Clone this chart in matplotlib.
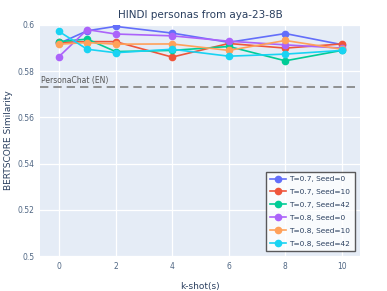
import numpy as np
import matplotlib.pyplot as plt

k_shots = [0, 1, 2, 4, 6, 8, 10]

t07_s0 = [0.5920, 0.5975, 0.5994, 0.5965, 0.5925, 0.5963, 0.5915]
t07_s10 = [0.5925, 0.5928, 0.5928, 0.5861, 0.5920, 0.5900, 0.5918]
t07_s42 = [0.5928, 0.5939, 0.5885, 0.5890, 0.5907, 0.5845, 0.5890]
t08_s0 = [0.5863, 0.5980, 0.5961, 0.5953, 0.5930, 0.5914, 0.5900]
t08_s10 = [0.5917, 0.5924, 0.5917, 0.5918, 0.5890, 0.5933, 0.5895]
t08_s42 = [0.5972, 0.5895, 0.5880, 0.5895, 0.5865, 0.5874, 0.5890]

series = [
    ("T=0.7, Seed=0", t07_s0, "#636EFA"),
    ("T=0.7, Seed=10", t07_s10, "#EF553B"),
    ("T=0.7, Seed=42", t07_s42, "#00CC96"),
    ("T=0.8, Seed=0", t08_s0, "#AB63FA"),
    ("T=0.8, Seed=10", t08_s10, "#FFA15A"),
    ("T=0.8, Seed=42", t08_s42, "#19D3F3"),
]

personachat_en = 0.5732

fig = plt.figure(figsize=(3.87, 2.91), dpi=100)
ax = fig.add_axes([40 / 387, 1 - 256 / 291, 320 / 387, 231 / 291])
ax.set_facecolor("#E5ECF6")

for label, vals, color in series:
    ax.plot(k_shots, vals, color=color, marker="o", markersize=4.5, linewidth=1.2, label=label)

ax.axhline(personachat_en, color="#808080", linestyle=(0, (5, 3)), linewidth=1.2)
ax.text(-0.62, personachat_en + 0.0008, "PersonaChat (EN)", fontsize=5.5, color="#555555", va="bottom")

ax.set_xlim(-0.67, 10.64)
ax.set_ylim(0.5, 0.6)
ax.set_xticks([0, 2, 4, 6, 8, 10])
ax.set_yticks([0.5, 0.52, 0.54, 0.56, 0.58, 0.6])
ax.set_yticklabels(["0.5", "0.52", "0.54", "0.56", "0.58", "0.6"])
ax.grid(True, color="white", linewidth=0.9)
ax.set_axisbelow(True)
for s in ax.spines.values():
    s.set_visible(False)
ax.tick_params(length=0, labelsize=5.5, colors="#506784", pad=4)

ax.set_title("HINDI personas from aya-23-8B", fontsize=7.5, color="#2a3f5f", pad=5)
ax.set_xlabel("k-shot(s)", fontsize=6.5, color="#2a3f5f", labelpad=8)
ax.set_ylabel("BERTSCORE Similarity", fontsize=6.5, color="#2a3f5f", labelpad=3)

leg = ax.legend(loc="lower right", fontsize=5.3, frameon=True, fancybox=False,
                edgecolor="#333333", handlelength=2.1, handletextpad=0.5,
                borderpad=0.6, labelspacing=0.92,
                bbox_to_anchor=(0.995, 0.005))
leg.get_frame().set_linewidth(1.0)
leg.get_frame().set_facecolor("white")
for t in leg.get_texts():
    t.set_color("#2a3f5f")

fig.savefig("out.png", dpi=100)
